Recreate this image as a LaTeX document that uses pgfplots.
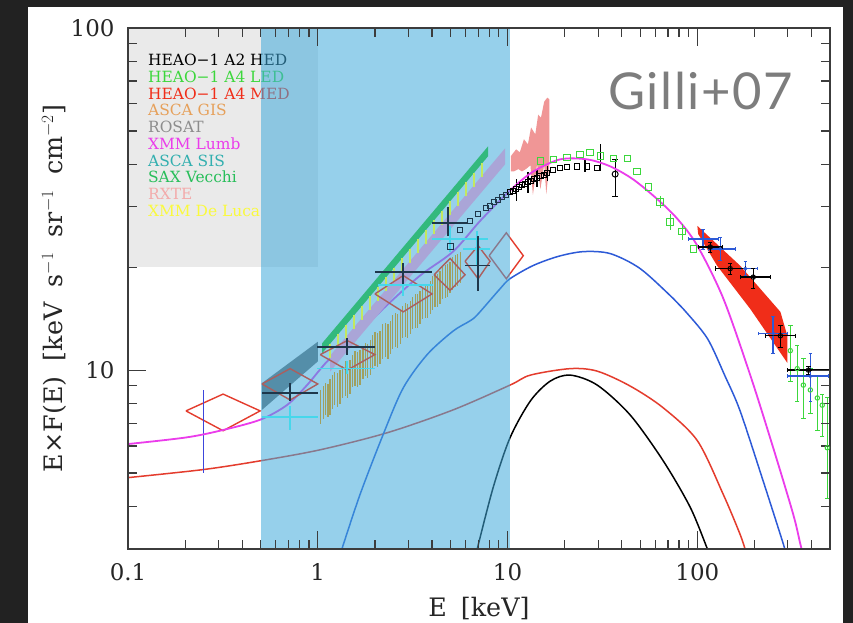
\documentclass[border=0pt]{standalone}
\usepackage{pgfplots}
\pgfplotsset{compat=1.18}
\usepackage{fontspec}
\setmainfont{DejaVu Serif}
\newfontfamily\latofont[LetterSpace=3]{Lato}
\definecolor{bgdark}{RGB}{34,34,34}
\definecolor{overlayblue}{RGB}{64,170,219}
\definecolor{boxgray}{RGB}{234,234,234}
\definecolor{mag}{RGB}{235,60,235}
\definecolor{redc}{RGB}{228,60,45}
\definecolor{bluec}{RGB}{45,90,215}
\definecolor{ledgreen}{RGB}{60,215,60}
\definecolor{medred}{RGB}{240,45,25}
\definecolor{gisorange}{RGB}{230,160,90}
\definecolor{rosatgray}{RGB}{110,110,110}
\definecolor{sisteal}{RGB}{50,175,175}
\definecolor{saxgreen}{RGB}{40,190,90}
\definecolor{rxtepink}{RGB}{240,150,150}
\definecolor{delucayellow}{RGB}{250,250,60}
\definecolor{rosatblue}{RGB}{60,70,220}
\definecolor{frame}{RGB}{60,60,60}
\definecolor{gilligray}{RGB}{125,125,125}
\definecolor{crossdark}{RGB}{30,55,75}
\definecolor{cyantop}{RGB}{70,215,235}
\definecolor{hatchtop}{RGB}{195,232,95}
\definecolor{greentop}{RGB}{50,185,125}
\definecolor{lavtop}{RGB}{170,165,215}
\definecolor{olivetop}{RGB}{160,160,95}
\definecolor{diamtop}{RGB}{170,95,95}
\pgfplotsset{
  bars only/.style={only marks, mark=*, mark size=0pt, mark options={draw=none, fill=none, line width=0pt, draw opacity=0, fill opacity=0}},
}
\begin{document}
\begin{tikzpicture}
\path[use as bounding box] (-128bp,-74bp) rectangle (725bp,549bp);
\fill[bgdark] (-128bp,-74bp) rectangle (725bp,549bp);
\fill[white] (-100bp,-74bp) rectangle (715bp,542bp);
\begin{axis}[
  at={(0,0)}, anchor=south west,
  scale only axis, width=702bp, height=521bp,
  xmode=log, ymode=log,
  xmin=0.1, xmax=500, ymin=3, ymax=100,
  xtick={0.1,1,10,100}, xticklabels={0.1,1,10,100},
  ytick={10,100}, yticklabels={10,100},
  minor xtick={0.2,0.3,0.4,0.5,0.6,0.7,0.8,0.9,2,3,4,5,6,7,8,9,20,30,40,50,60,70,80,90,200,300,400},
  minor ytick={4,5,6,7,8,9,20,30,40,50,60,70,80,90},
  tick align=inside,
  major tick length=18bp, minor tick length=9bp,
  axis line style={line width=1.6bp, frame},
  every tick/.style={line width=1.2bp, frame},
  axis on top,
  tick label style={font=\fontsize{23}{23}\selectfont, text=black!85},
  xticklabel style={yshift=-11bp},
  yticklabel style={xshift=-10bp},
  xlabel={E\hspace{0.55em}[keV]},
  ylabel={E{\texttimes}F(E)\hspace{0.6em}[keV\hspace{0.6em}s$^{-1}$\hspace{0.6em}sr$^{-1}$\hspace{0.6em}cm$^{-2}$]},
  label style={font=\fontsize{25.5}{25.5}\selectfont, text=black!85},
  xlabel style={at={(axis description cs:0.5,-0.1286)}, anchor=base},
  ylabel style={at={(axis description cs:-0.1054,0.5)}, anchor=center},
]
% legend box
\addplot[fill=boxgray, draw=none] coordinates {(0.1,20) (1,20) (1,100) (0.1,100)};
% legend text
\addplot[draw=none] coordinates {(0.1274,77.8)} node[anchor=base west, inner sep=0, text=black, font=\fontsize{15.5}{15.5}\selectfont] {HEAO−1 A2 HED};
\addplot[draw=none] coordinates {(0.1274,69.5)} node[anchor=base west, inner sep=0, text=ledgreen, font=\fontsize{15.5}{15.5}\selectfont] {HEAO−1 A4 LED};
\addplot[draw=none] coordinates {(0.1274,62.0)} node[anchor=base west, inner sep=0, text=medred, font=\fontsize{15.5}{15.5}\selectfont] {HEAO−1 A4 MED};
\addplot[draw=none] coordinates {(0.1274,55.4)} node[anchor=base west, inner sep=0, text=gisorange, font=\fontsize{15.5}{15.5}\selectfont] {ASCA GIS};
\addplot[draw=none] coordinates {(0.1274,49.5)} node[anchor=base west, inner sep=0, text=black!45, font=\fontsize{15.5}{15.5}\selectfont] {ROSAT};
\addplot[draw=none] coordinates {(0.1274,44.2)} node[anchor=base west, inner sep=0, text=mag, font=\fontsize{15.5}{15.5}\selectfont] {XMM Lumb};
\addplot[draw=none] coordinates {(0.1274,39.5)} node[anchor=base west, inner sep=0, text=sisteal, font=\fontsize{15.5}{15.5}\selectfont] {ASCA SIS};
\addplot[draw=none] coordinates {(0.1274,35.3)} node[anchor=base west, inner sep=0, text=saxgreen, font=\fontsize{15.5}{15.5}\selectfont] {SAX Vecchi};
\addplot[draw=none] coordinates {(0.1274,31.5)} node[anchor=base west, inner sep=0, text=rxtepink!80!white, font=\fontsize{15.5}{15.5}\selectfont] {RXTE};
\addplot[draw=none] coordinates {(0.1274,28.1)} node[anchor=base west, inner sep=0, text=delucayellow, font=\fontsize{15.5}{15.5}\selectfont] {XMM De Luca};

% ROSAT gray band
\addplot[fill=rosatgray, draw=none] coordinates {(0.508,9.16) (1.0,12.1) (1.0,10.6) (0.508,7.65)};
% RXTE pink
\addplot[fill=rxtepink, draw=none] coordinates {
(10.4,42.2) (11.1,44.2) (11.6,43.3) (12.2,47.3) (12.8,45.7) (13.3,51.2) (14.0,48.9)
(14.5,55.8) (15.0,54.7) (15.6,60.9) (16.2,62.6) (16.6,61.8)
(16.6,40.0) (16.0,32.7) (15.6,40.0) (14.9,33.8) (14.3,40.0) (13.6,32.5) (13.2,39.7)
(12.5,38.7) (11.9,38.1) (11.4,38.7) (10.8,38.1) (10.4,38.1)};
% HEAO-1 A4 MED red band
\addplot[fill=medred, draw=none] coordinates {
(100,26.4) (168,20.2) (274,14.8) (298,12.6) (298,10.5) (190,15.1) (127,20.2) (101,25.0)};

% model curves
\addplot[redc, line width=1.5bp, smooth] coordinates {
(0.1,4.85) (0.249,5.12) (0.497,5.43) (1.03,5.85) (2.32,6.56) (5.16,7.65) (10.3,9.04)
(13.2,9.67) (21.4,10.1) (29.7,9.93) (44.3,8.98) (66.1,7.76) (100,6.22) (137,4.33)
(168,3.31) (180,2.95)};
\addplot[black, line width=1.5bp, smooth] coordinates {
(6.92,3.0) (8.40,4.54) (10.3,6.34) (13.2,8.13) (16.8,9.29) (21.4,9.67) (29.7,9.04)
(44.3,7.39) (66.1,5.43) (91.8,3.97) (113,3.0) (116,2.9)};
\addplot[bluec, line width=1.5bp, smooth] coordinates {
(1.34,3.0) (1.67,4.33) (2.21,6.48) (2.82,8.87) (3.77,11.1) (5.16,13.0) (6.3,13.9)
(6.92,14.5) (9.14,17.3) (10.3,18.5) (13.6,20.2) (18.5,21.5) (25.1,22.2) (34.8,21.9)
(50.0,19.8) (74.6,16.2) (84.3,15.1) (112.7,12.4) (140,9.6) (168,7.6) (222,4.75)
(284,3.1) (290,2.95)};

% diamonds (outside the band / straddling it)
\addplot[redc, line width=1.4bp] coordinates {(0.202,7.60) (0.317,8.51) (0.497,7.60) (0.317,6.65) (0.202,7.60)};
\addplot[redc, line width=1.4bp] coordinates {(8.0,21.6) (9.85,25.2) (12.1,21.6) (9.85,18.5) (8.0,21.6)};

% ROSAT bar
\addplot[bars only, rosatblue, error bars/.cd, y dir=both, y explicit,
  error bar style={rosatblue, line width=1.2bp}] coordinates {(0.251,6.6) += (0,2.15) -= (0,1.58)};

% HEAO-1 A2 HED black squares
\addplot[only marks, mark=square, mark size=2.6bp, black, line width=0.9bp] coordinates {
(10.3,33.1) (10.7,33.4) (11.1,33.8) (11.5,34.3) (11.9,34.7) (12.3,35.0)
(12.8,35.4) (13.3,35.8) (13.8,36.2) (14.3,36.5) (14.9,36.9) (15.5,37.2) (16.2,37.6)
(17.4,38.4) (18.9,38.9) (20.6,39.2) (23.2,39.4) (26.3,39.4) (29.7,38.9)};
\addplot[bars only, black, error bars/.cd, y dir=both, y explicit,
  error bar style={black, line width=1.2bp}] coordinates {
(30.8,41.3) += (0,4.4) -= (0,3.2) (25.6,39.5) +- (0,1.5) (12.8,35.4) +- (0,2.5) (11.1,33.8) +- (0,2.5)
(14.3,36.5) +- (0,2.2) (16.2,37.6) +- (0,2.0)};
\addplot[only marks, mark=o, mark size=3bp, black, line width=1bp, error bars/.cd, y dir=both, y explicit,
  error bar style={black, line width=1.2bp}] coordinates {(36.9,37.4) += (0,3.9) -= (0,5.1)};

% magenta model
\addplot[mag, line width=1.8bp, smooth] coordinates {
(0.1,6.08) (0.2,6.35) (0.305,6.65) (0.497,7.16) (0.689,7.91) (0.878,9.04) (1.12,10.6)
(1.53,12.4) (2.32,15.5) (3.46,18.9) (5.16,22.2) (7.17,27.3) (10.3,33.5) (13.6,38.0)
(18.9,41.3) (26.3,41.3) (34.8,39.4) (45.9,36.1) (61.5,31.6) (78.4,27.7) (100,23.1)
(137,16.2) (190,9.67) (251,5.93) (320,3.79) (349,3.10) (360,2.9)};

% HEAO-1 A4 LED green squares
\addplot[only marks, mark=square, mark size=3.2bp, ledgreen, line width=1bp] coordinates {
(14.9,40.8) (17.4,41.3) (20.6,41.9) (24.1,42.7) (27.2,43.3) (30.8,42.2) (36.1,41.6)
(42.7,41.6) (48.2,38.1) (55.1,34.3) (63.7,31.0) (71.9,27.1) (83.2,25.4) (95.1,22.6)};
\addplot[bars only, ledgreen, error bars/.cd, y dir=both, y explicit,
  error bar style={ledgreen, line width=1bp}] coordinates {
(71.9,27.1) +- (0,1.5) (83.2,25.4) +- (0,1.4) (63.7,31.0) +- (0,1.3)};
% green circles at high energy
\addplot[only marks, mark=o, mark size=2.2bp, ledgreen, line width=1bp, error bars/.cd, y dir=both, y explicit,
  error bar style={ledgreen, line width=1bp}] coordinates {
(309,11.4) +- (0,2.1) (336,10.1) += (0,1.7) -= (0,2.0) (362,9.04) +- (0,1.8)
(394,8.75) += (0,1.35) -= (0,1.25) (429,8.29) += (0,1.4) -= (0,1.6)
(455,7.9) += (0,0.6) -= (0,1.5) (484,5.93) += (0,2.4) -= (0,1.7)};

% blue crosses (high E)
\addplot[only marks, mark=*, mark size=1.8bp, bluec, error bars/.cd, x dir=both, x explicit, y dir=both, y explicit,
  error bar style={bluec, line width=1.4bp}] coordinates {
(107,24.2) += (22,1.7) -= (17.5,1.6)
(132,22.6) += (26,1.9) -= (18,1.7)
(179,19.8) += (28,1.0) -= (11,0.9)
(251,12.8) += (47,1.6) -= (42,1.6)
(394,9.6) += (96,1.6) -= (96,1.47)};
% black crosses (high E)
\addplot[only marks, mark=o, mark size=2.2bp, black, line width=1bp, error bars/.cd, x dir=both, x explicit, y dir=both, y explicit,
  error bar style={black, line width=1.3bp}] coordinates {
(117,22.9) += (18,0.8) -= (16,0.8)
(149,19.8) += (30,0.7) -= (25,0.7)
(197,18.7) += (45,1.1) -= (29,1.4)
(274,12.6) += (54,0.9) -= (46,0.9)
(385,10.0) += (116,0.3) -= (87,0.3)};

% blue shaded band
\addplot[fill=overlayblue, fill opacity=0.55, draw=none] coordinates {(0.5,3) (10.3,3) (10.3,100) (0.5,100)};

% data seen through the shaded band
% XMM Lumb band
\addplot[fill=lavtop, draw=none] coordinates {(1.161,11.02) (9.71,44.5) (9.71,39.97) (1.161,9.90)};
% SAX Vecchi stripe
\addplot[fill=greentop, draw=none] coordinates {(1.054,11.98) (7.90,45.1) (7.90,42.2) (1.054,11.2)};
% De Luca hatch bars
\addplot[bars only, hatchtop, error bars/.cd, y dir=minus, y explicit, error mark=none,
  error bar style={hatchtop, line width=1.6bp}] coordinates {
(1.161,11.94) -= (0,1.06) (1.279,12.73) -= (0,1.13) (1.410,13.57) -= (0,1.21)
(1.554,14.47) -= (0,1.29) (1.712,15.42) -= (0,1.37) (1.887,16.44) -= (0,1.46)
(2.079,17.52) -= (0,1.56) (2.292,18.68) -= (0,1.66) (2.525,19.91) -= (0,1.77)
(2.783,21.22) -= (0,1.89) (3.066,22.62) -= (0,2.01) (3.379,24.12) -= (0,2.15)
(3.724,25.71) -= (0,2.29) (4.104,27.41) -= (0,2.44) (4.522,29.22) -= (0,2.60)
(4.982,31.14) -= (0,2.77) (5.490,33.19) -= (0,2.95) (6.050,35.39) -= (0,3.15)
(6.668,37.72) -= (0,3.36) (7.346,40.21) -= (0,3.58)
};
% ASCA GIS points (olive through the band)
\addplot[bars only, olivetop, error bars/.cd, y dir=both, y explicit, error mark=none,
  error bar style={olivetop, line width=1.3bp}] coordinates {
(1.03,7.86) +- (0,0.9) (1.07,8.1) +- (0,0.9) (1.10,8.3) +- (0,0.9) (1.13,8.2) +- (0,0.9)
(1.16,8.40) +- (0,1.0) (1.20,8.7) +- (0,1.0) (1.23,8.9) +- (0,1.0) (1.27,8.8) +- (0,1.0)
(1.31,8.98) +- (0,1.0) (1.35,9.3) +- (0,1.0) (1.40,9.5) +- (0,1.1) (1.44,9.4) +- (0,1.1)
(1.48,9.61) +- (0,1.1) (1.53,10.0) +- (0,1.1) (1.57,10.2) +- (0,1.2) (1.62,10.1) +- (0,1.2)
(1.67,10.27) +- (0,1.2) (1.73,10.6) +- (0,1.2) (1.78,10.8) +- (0,1.2) (1.83,10.7) +- (0,1.2)
(1.89,10.98) +- (0,1.3) (1.95,11.4) +- (0,1.3) (2.0,11.6) +- (0,1.3) (2.07,11.5) +- (0,1.3)
(2.13,11.74) +- (0,1.3) (2.20,12.2) +- (0,1.4) (2.27,12.3) +- (0,1.4) (2.34,12.2) +- (0,1.4)
(2.41,12.56) +- (0,1.4) (2.48,13.0) +- (0,1.5) (2.56,13.2) +- (0,1.5) (2.64,13.1) +- (0,1.5)
(2.72,13.42) +- (0,1.5) (2.80,13.9) +- (0,1.5) (2.89,14.1) +- (0,1.6) (2.98,14.0) +- (0,1.6)
(3.07,14.36) +- (0,1.6) (3.16,14.8) +- (0,1.6) (3.26,15.0) +- (0,1.7) (3.36,15.0) +- (0,1.7)
(3.46,15.35) +- (0,1.7) (3.57,15.8) +- (0,1.7) (3.68,16.0) +- (0,1.8) (3.79,16.0) +- (0,1.8)
(3.91,16.41) +- (0,1.8) (4.03,16.9) +- (0,1.9) (4.15,17.2) +- (0,1.9) (4.28,17.2) +- (0,1.9)
(4.41,17.55) +- (0,1.9) (4.55,18.1) +- (0,2.0) (4.69,18.3) +- (0,2.0) (4.83,18.4) +- (0,2.0)
(4.98,18.76) +- (0,2.0) (5.14,19.3) +- (0,2.1) (5.30,19.6) +- (0,2.1) (5.46,19.7) +- (0,2.1)
(5.63,20.06) +- (0,2.1)
};
% diamonds inside the band
\addplot[diamtop, line width=1.4bp] coordinates {(0.508,9.11) (0.715,10.1) (1.0,9.11) (0.715,8.18) (0.508,9.11)};
\addplot[diamtop, line width=1.4bp] coordinates {(1.03,11.1) (1.43,12.2) (2.0,11.1) (1.43,10.0) (1.03,11.1)};
\addplot[diamtop, line width=1.4bp] coordinates {(2.0,16.7) (2.82,18.9) (4.0,16.7) (2.82,14.8) (2.0,16.7)};
\addplot[diamtop, line width=1.4bp] coordinates {(4.1,19.0) (4.98,21.2) (5.97,19.0) (4.98,17.1) (4.1,19.0)};
\addplot[diamtop, line width=1.4bp] coordinates {(5.97,20.8) (7.0,23.1) (8.09,20.8) (7.0,18.5) (5.97,20.8)};
% HEAO-1 A2 squares inside the band
\addplot[only marks, mark=square, mark size=2.6bp, crossdark, line width=0.9bp] coordinates {
(5.0,23.0) (5.62,25.7) (6.35,27.3) (7.0,28.6) (7.71,29.8) (8.1,30.2) (8.5,31.0) (8.9,31.4)
(9.37,32.1) (9.8,32.5)};
% ASCA SIS cyan crosses
\addplot[bars only, cyantop, error bars/.cd, x dir=both, x explicit, y dir=both, y explicit,
  error bar style={cyantop, line width=1.6bp}] coordinates {
(0.715,7.30) += (0.285,0.55) -= (0.207,0.60)
(1.43,10.1) += (0.57,0.5) -= (0.44,0.34)
(2.82,17.7) += (1.23,1.2) -= (0.74,1.2)
(4.98,24.2) += (2.92,2.2) -= (0.98,2.0)
(6.92,22.6) += (1.17,2.9) -= (1.09,2.4)};
% dark crosses
\addplot[bars only, crossdark, error bars/.cd, x dir=both, x explicit, y dir=both, y explicit,
  error bar style={crossdark, line width=1.7bp}] coordinates {
(0.715,8.57) += (0.285,0.59) -= (0.207,0.44)
(1.43,11.7) += (0.57,0.7) -= (0.44,0.6)
(2.82,19.4) += (1.18,1.1) -= (0.82,1.5)
(4.86,26.9) += (1.27,3.1) -= (0.86,2.2)
(7.0,20.2) += (1.09,4.5) -= (1.03,3.2)};

% label
\addplot[draw=none] coordinates {(33.9,57.8)} node[anchor=base west, inner sep=0, text=gilligray, font=\latofont\fontsize{51}{51}\selectfont] {Gilli+07};
\end{axis}
\end{tikzpicture}
\end{document}
